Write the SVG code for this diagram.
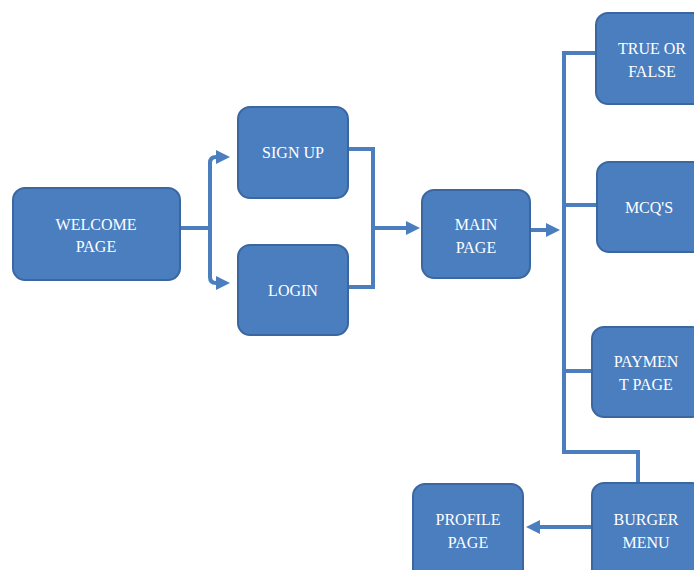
<svg xmlns="http://www.w3.org/2000/svg" width="694" height="570" viewBox="0 0 694 570">
<style>
.box{fill:#4a7ebf;stroke:#3a67a0;stroke-width:2}
.t{font-family:"Liberation Serif","Times New Roman",serif;font-size:16px;fill:#ffffff;text-anchor:middle}
.c{fill:none;stroke:#4a7ebf;stroke-width:4}
</style>
<defs>
<marker id="ah" markerWidth="3.5" markerHeight="3.5" refX="2.5" refY="1.75" orient="auto" markerUnits="strokeWidth">
<path d="M0,0 L3.5,1.75 L0,3.5 Z" fill="#4a7ebf"/>
</marker>
</defs>
<rect width="694" height="570" fill="#ffffff"/>
<g id="connectors">
<path class="c" d="M180,228 H210"/>
<path class="c" d="M225,157 H216 Q210,157 210,163 V277 Q210,283 216,283 H226" marker-end="url(#ah)"/>
<path class="c" d="M216,157 H226" marker-end="url(#ah)"/>
<path class="c" d="M348,149 H373 V287 H348"/>
<path class="c" d="M373,228 H416" marker-end="url(#ah)"/>
<path class="c" d="M530,230 H556" marker-end="url(#ah)"/>
<path class="c" d="M597,53 H564 V452 H638 V483"/>
<path class="c" d="M564,205 H597"/>
<path class="c" d="M564,371 H592"/>
<path class="c" d="M592,527 H530" marker-end="url(#ah)"/>
</g>
<g id="welcome"><rect class="box" x="13" y="188" width="167" height="92" rx="12"/><text class="t" x="96" y="230">WELCOME</text><text class="t" x="96" y="252">PAGE</text></g>
<g id="signup"><rect class="box" x="238" y="107" width="110" height="91" rx="12"/><text class="t" x="293" y="158">SIGN UP</text></g>
<g id="login"><rect class="box" x="238" y="245" width="110" height="90" rx="12"/><text class="t" x="293" y="296">LOGIN</text></g>
<g id="main"><rect class="box" x="422" y="190" width="108" height="88" rx="12"/><text class="t" x="476" y="230">MAIN</text><text class="t" x="476" y="253">PAGE</text></g>
<g id="truefalse"><rect class="box" x="596" y="13" width="112" height="91" rx="12"/><text class="t" x="652" y="54">TRUE OR</text><text class="t" x="652" y="77">FALSE</text></g>
<g id="mcq"><rect class="box" x="597" y="162" width="112" height="90" rx="12"/><text class="t" x="649" y="213">MCQ'S</text></g>
<g id="payment"><rect class="box" x="592" y="327" width="112" height="90" rx="12"/><text class="t" x="646" y="367">PAYMEN</text><text class="t" x="646" y="390">T PAGE</text></g>
<g id="burger"><rect class="box" x="592" y="483" width="112" height="100" rx="12"/><text class="t" x="646" y="525">BURGER</text><text class="t" x="646" y="548">MENU</text></g>
<g id="profile"><rect class="box" x="413" y="484" width="110" height="100" rx="12"/><text class="t" x="468" y="525">PROFILE</text><text class="t" x="468" y="548">PAGE</text></g>
</svg>
